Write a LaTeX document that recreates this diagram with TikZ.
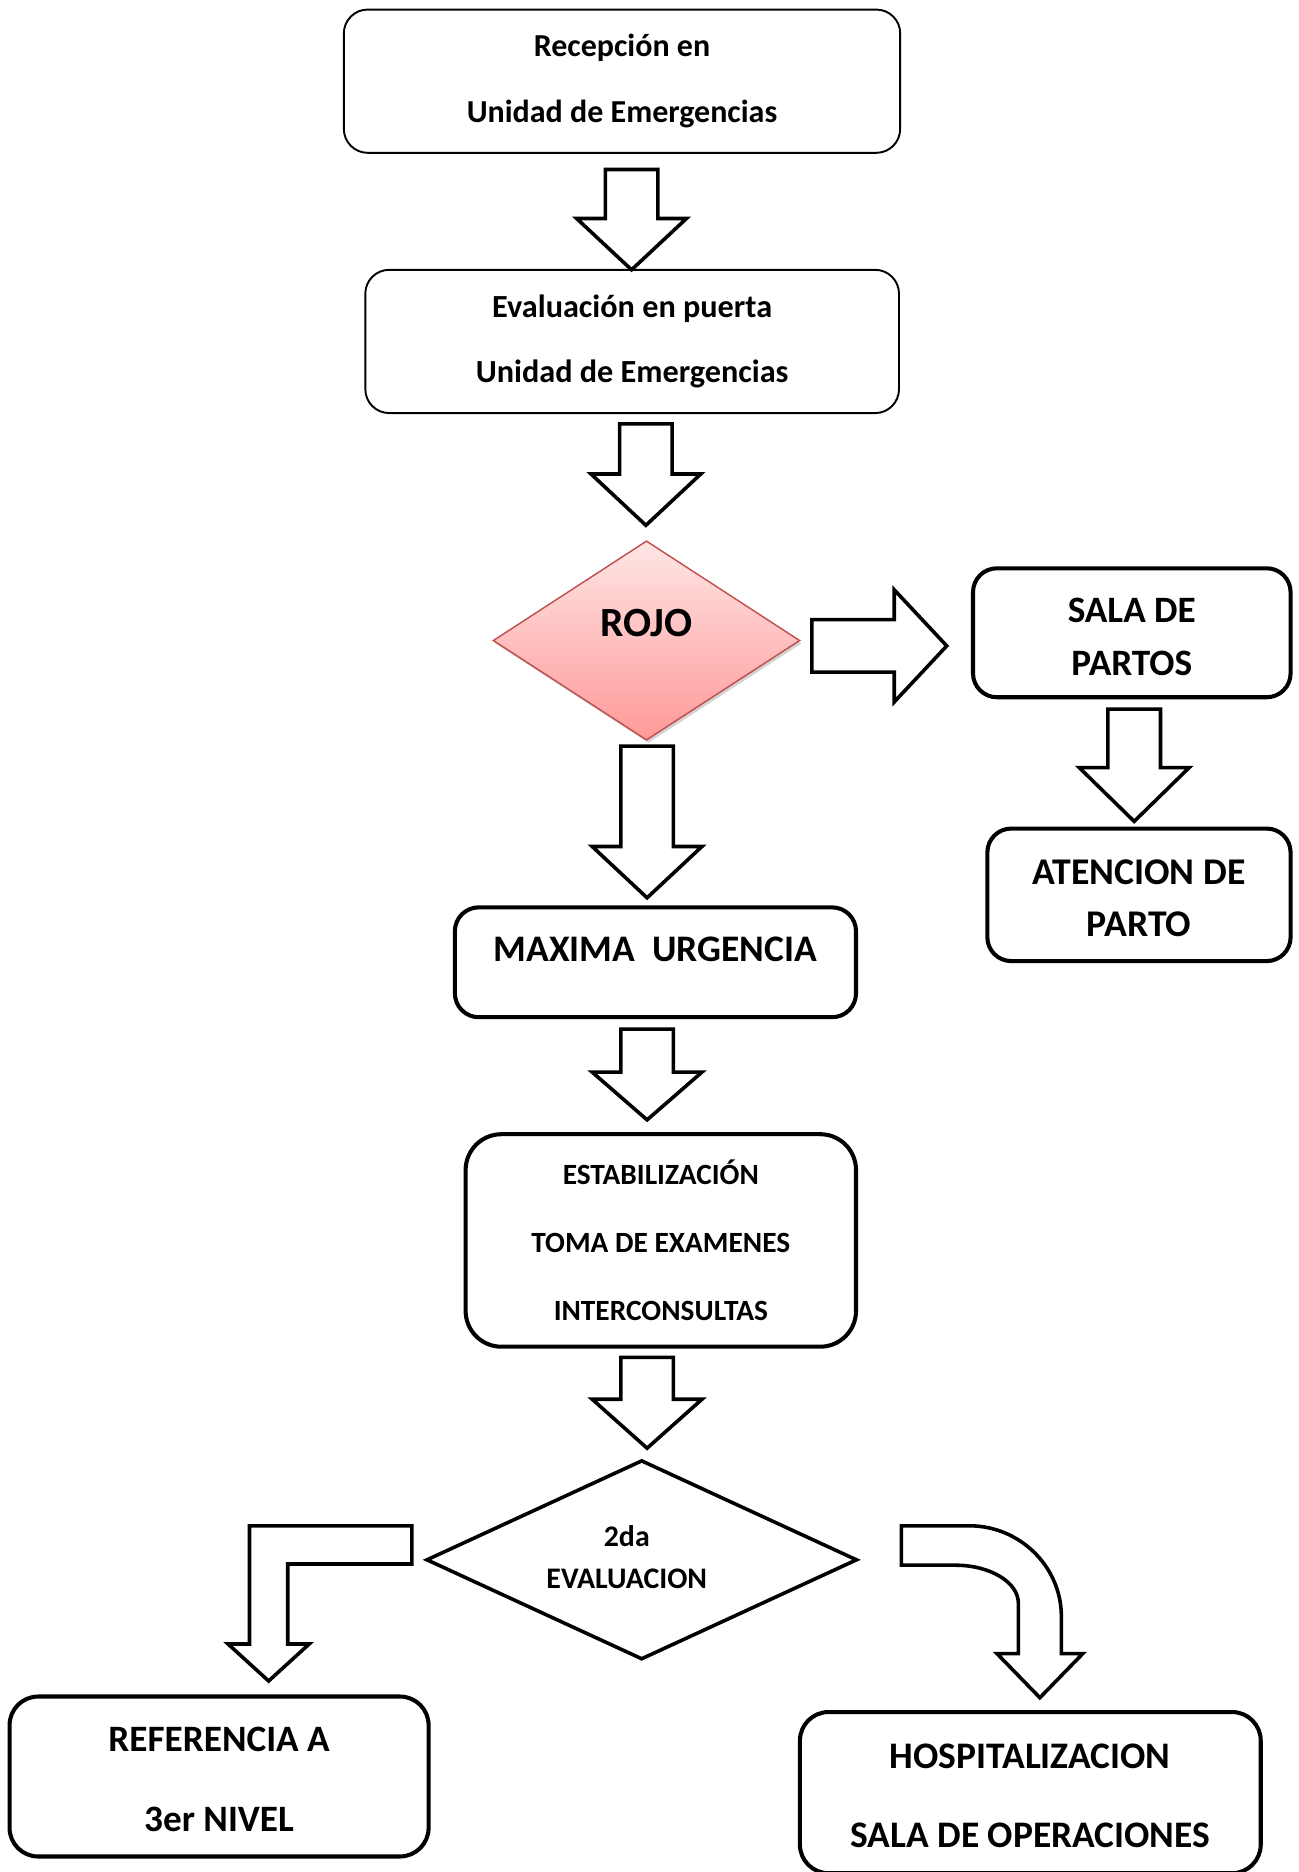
\documentclass[tikz,border=0pt]{standalone}
\usepackage{fontspec}
\setmainfont{Carlito}
\usetikzlibrary{shapes.geometric,shadows}
\definecolor{rojoborde}{RGB}{192,80,77}
% flecha de bloque hacia abajo: x, arriba, base de la punta, punta
\newcommand{\flechabaja}[4]{%
  \draw[flecha] (#1-22,#2) -- (#1+22,#2) -- (#1+22,#3) -- (#1+46,#3)
    -- (#1,#4) -- (#1-46,#3) -- (#1-22,#3) -- cycle;}
\begin{document}
\begin{tikzpicture}[x=0.5pt,y=-0.5pt,
    caja/.style={draw,rounded corners=10pt,align=center,inner sep=0pt},
    fina/.style={line width=0.8pt},
    gruesa/.style={line width=1.7pt},
    flecha/.style={line width=1.5pt,line join=miter},
    texto/.style={align=center,inner sep=0pt}]
  \useasboundingbox (0,0) rectangle (1088,1568);
  \node[caja,fina,minimum width=233pt,minimum height=60pt,
        font=\fontsize{13.4}{27.5}\selectfont\bfseries]
    (recep) at (521,68) {Recepción en\\Unidad de Emergencias};
  \node[caja,fina,minimum width=223.5pt,minimum height=60pt,
        font=\fontsize{13.5}{27.5}\selectfont\bfseries]
    (evalp) at (529.5,286) {Evaluación en puerta\\Unidad de Emergencias};
  \node[diamond,draw=rojoborde,line width=0.6pt,top color=red!10,bottom color=red!40,
        drop shadow={shadow xshift=0.8pt,shadow yshift=-1.2pt,opacity=0.35},
        minimum width=128.5pt,minimum height=83.5pt,inner sep=0pt]
    (rojo) at (541.5,536.5) {};
  \node[texto,font=\fontsize{17.4}{20}\selectfont\bfseries] (rojotxt) at (541.5,522) {ROJO};
  \node[caja,gruesa,minimum width=133pt,minimum height=54pt,text height=35.8pt,
        font=\fontsize{15.6}{22}\selectfont\bfseries]
    (partos) at (948,530) {SALA DE\\PARTOS};
  \node[caja,gruesa,minimum width=127pt,minimum height=55.5pt,text height=35.4pt,
        font=\fontsize{15.8}{22}\selectfont\bfseries]
    (atencion) at (954,749.5) {ATENCION DE\\PARTO};
  \node[caja,gruesa,minimum width=168pt,minimum height=46pt,text height=12pt,text depth=13pt,
        font=\fontsize{15.7}{20}\selectfont\bfseries]
    (maxima) at (549,806) {MAXIMA\ \ URGENCIA};
  \node[caja,gruesa,rounded corners=15pt,minimum width=163.5pt,minimum height=89pt,
        font=\fontsize{12.3}{28.5}\selectfont\bfseries]
    (estab) at (553.5,1039) {ESTABILIZACIÓN\\TOMA DE EXAMENES\\INTERCONSULTAS};
  \node[diamond,draw,line width=1.5pt,minimum width=180.5pt,minimum height=83.5pt,inner sep=0pt]
    (evaldos) at (537.5,1306.5) {};
  \node[texto,font=\fontsize{12.5}{17.5}\selectfont\bfseries] (evaldostxt) at (525,1304.5)
    {2da\\EVALUACION};
  \node[caja,gruesa,rounded corners=12pt,minimum width=175.5pt,minimum height=67pt,
        text height=46.5pt,font=\fontsize{15.6}{33.5}\selectfont\bfseries]
    (referencia) at (183.5,1488) {REFERENCIA A\\3er NIVEL};
  \node[caja,gruesa,rounded corners=12pt,minimum width=193pt,minimum height=67.5pt,
        text height=45.8pt,font=\fontsize{15.7}{33}\selectfont\bfseries]
    (hospital) at (863,1501.5) {HOSPITALIZACION\\SALA DE OPERACIONES};
  \begin{scope}
    \flechabaja{529}{142}{183}{226}
    \flechabaja{541}{355}{397}{440}
    \flechabaja{542}{625}{709}{752}
    \flechabaja{542}{862}{898}{938}
    \flechabaja{542}{1137}{1172}{1213}
    \flechabaja{950}{594}{643}{688}
    % hacia sala de partos
    \draw[flecha] (680,519) -- (749,519) -- (749,494) -- (793,541)
      -- (749,588) -- (749,563) -- (680,563) -- cycle;
    % hacia referencia
    \draw[flecha] (345,1278) -- (209,1278) -- (209,1377) -- (191,1377) -- (225,1408)
      -- (259,1377) -- (241,1377) -- (241,1310) -- (345,1310) -- cycle;
    % hacia hospitalizacion
    \draw[flecha] (755,1278) -- (812,1278) .. controls (854,1278) and (889,1312) .. (889,1354)
      -- (889,1385) -- (907,1385) -- (871,1422) -- (835,1385) -- (853,1385) -- (853,1343)
      .. controls (853,1325) and (829,1311) .. (800,1311) -- (755,1311) -- cycle;
  \end{scope}
\end{tikzpicture}
\end{document}
